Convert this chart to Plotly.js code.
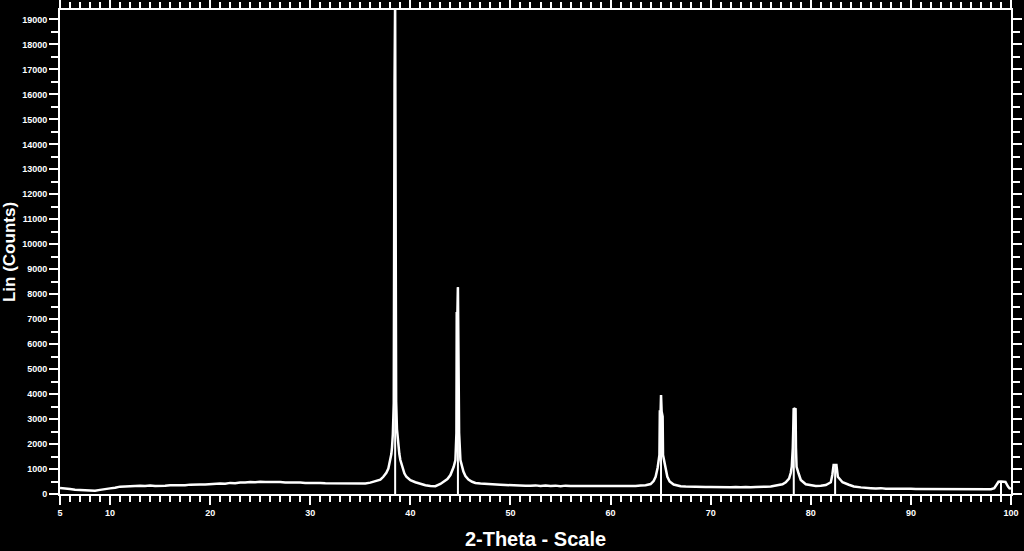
<!DOCTYPE html>
<html>
<head>
<meta charset="utf-8">
<script src="https://cdn.plot.ly/plotly-3.0.1.min.js"></script>
<style>html,body{margin:0;padding:0;background:#000;}#chart{width:1024px;height:551px;}</style>
</head>
<body>
<div id="chart"></div>
<script>
// 2-Theta positions (degrees) of the measured pattern
const twoTheta = [
 5.0,5.5,6.0,6.5,7.0,7.5,8.0,8.5,9.0,9.5,10.0,10.5,11.0,11.5,12.0,12.5,13.0,13.5,14.0,14.5,
 15.0,15.5,16.0,16.5,17.0,17.5,18.0,18.5,19.0,19.5,20.0,20.5,21.0,21.5,22.0,22.5,23.0,23.5,24.0,24.5,
 25.0,25.5,26.0,26.5,27.0,27.5,28.0,28.5,29.0,29.5,30.0,30.5,31.0,31.5,32.0,32.5,33.0,33.5,34.0,34.5,
 35.0,35.5,36.0,36.5,37.0,37.3,37.6,37.8,38.0,38.1,38.17,38.25,38.34,38.36,38.42,38.47,38.5,38.53,38.56,38.58,
 38.66,38.8,38.9,39.0,39.2,39.4,39.6,39.8,40.0,40.5,41.0,41.5,42.0,42.5,43.0,43.3,43.7,44.0,
 44.2,44.33,44.5,44.6,44.63,44.7,44.75,44.8,44.84,44.87,45.0,45.17,45.3,45.5,45.8,46.17,46.5,
 47.0,47.5,48.0,48.5,49.0,49.5,50.0,50.5,51.0,51.5,52.0,52.5,53.0,53.5,54.0,54.5,55.0,55.5,56.0,56.5,
 57.0,57.5,58.0,58.5,59.0,59.5,60.0,60.5,61.0,61.5,62.0,62.5,63.0,63.5,64.0,64.3,64.5,64.7,64.88,64.92,
 65.0,65.04,65.1,65.14,65.2,65.24,65.45,65.67,65.9,66.3,66.8,67.0,67.5,68.0,68.5,69.0,69.5,70.0,70.5,
 71.0,71.5,72.0,72.5,73.0,73.5,74.0,74.5,75.0,75.5,76.0,76.5,77.0,77.17,77.5,77.83,78.0,78.1,78.2,78.24,
 78.3,78.4,78.48,78.52,78.58,78.8,79.0,79.5,80.0,80.5,81.0,81.5,82.0,82.15,82.28,82.43,82.56,82.7,83.17,
 83.8,84.3,85.0,85.5,86.0,86.5,87.0,87.5,88.0,88.5,89.0,89.5,90.0,90.5,91.0,91.5,92.0,92.5,93.0,93.5,
 94.0,94.5,95.0,95.5,96.0,96.5,97.0,97.5,98.0,98.33,98.6,98.75,99.0,99.3,99.45,99.7,99.85,100.0
];
// Lin (Counts)
const counts = [
 245,210,200,170,160,140,140,130,165,180,225,250,295,305,325,315,335,320,340,325,
 345,335,350,345,365,350,375,365,385,380,405,400,425,410,445,435,465,460,485,470,
 495,480,490,480,485,465,470,460,460,445,455,440,445,430,430,420,425,410,425,405,
 425,425,455,500,570,690,850,1020,1360,1600,1880,2400,3640,16000,16500,19400,15000,13300,13000,3700,
 2600,1880,1600,1360,1050,830,690,600,550,470,400,350,320,310,400,490,600,760,
 920,1090,1360,2440,7240,7240,8280,6400,6300,2440,1360,1100,900,720,580,490,440,
 420,400,390,385,370,360,345,330,345,330,330,345,325,340,320,335,315,335,320,320,
 335,315,320,320,325,305,325,310,315,315,320,325,340,350,400,520,690,1050,1560,3300,
 3300,3960,3300,3200,3100,1560,1050,690,500,380,330,310,300,290,285,295,280,285,275,
 295,275,275,285,270,285,270,285,275,290,300,330,370,390,470,620,850,1090,1840,3430,
 3430,3400,3430,1840,1090,800,560,390,340,320,330,360,470,760,1160,1160,1160,690,470,
 370,300,265,235,235,220,235,215,220,220,215,210,210,205,205,200,200,195,195,190,
 190,185,190,175,190,180,185,180,195,230,380,490,500,490,480,300,230,220
];
// Reference stick lines (position, intensity)
const stickPos = [38.48, 44.75, 65.04, 78.3, 82.43, 99.0];
const stickHeight = [19400, 8280, 3960, 3430, 1160, 500];
// x tick labels
const xTickVals = [5,10,20,30,40,50,60,70,80,90,100];
const xTickText = ['5','10','20','30','40','50','60','70','80','90','100'];

const sx = [], sy = [];
stickPos.forEach((p, i) => { sx.push(p, p, null); sy.push(0, stickHeight[i], null); });

const traces = [
  {x: twoTheta, y: counts, type: 'scatter', mode: 'lines',
   line: {color: '#ffffff', width: 2.5}, hoverinfo: 'skip', showlegend: false},
  {x: sx, y: sy, type: 'scatter', mode: 'lines',
   line: {color: '#ffffff', width: 2}, hoverinfo: 'skip', showlegend: false}
];

const tickFont = {family: 'Liberation Sans, Arial, sans-serif', size: 9, color: '#ffffff', weight: 'bold'};

const layout = {
  width: 1024, height: 551,
  paper_bgcolor: '#000000', plot_bgcolor: '#000000',
  margin: {l: 60, r: 13, t: 10, b: 57},
  showlegend: false,
  xaxis: {
    range: [5, 100], tickmode: 'array', tickvals: xTickVals, ticktext: xTickText,
    ticks: 'outside', ticklen: 9, tickwidth: 2, tickcolor: '#ffffff',
    showline: true, linecolor: '#ffffff', linewidth: 2, mirror: 'allticks',
    showgrid: false, zeroline: false, tickfont: tickFont,
    minor: {tickmode: 'linear', tick0: 0, dtick: 1, ticks: 'outside', ticklen: 6, tickwidth: 2, tickcolor: '#ffffff', showgrid: false},
    title: {text: '2-Theta - Scale', font: {family: 'Liberation Sans, Arial, sans-serif', size: 20, color: '#ffffff', weight: 'bold'}, standoff: 15}
  },
  yaxis: {
    range: [0, 19380], tickmode: 'linear', tick0: 0, dtick: 1000, tickformat: 'd',
    ticks: 'outside', ticklen: 9, tickwidth: 2, tickcolor: '#ffffff',
    showline: true, linecolor: '#ffffff', linewidth: 2, mirror: 'allticks',
    showgrid: false, zeroline: false, tickfont: tickFont,
    minor: {tickmode: 'linear', tick0: 0, dtick: 500, ticks: 'outside', ticklen: 7, tickwidth: 2, tickcolor: '#ffffff', showgrid: false},
    title: {text: 'Lin (Counts)', font: {family: 'Liberation Sans, Arial, sans-serif', size: 17, color: '#ffffff', weight: 'bold'}, standoff: 4}
  }
};

Plotly.newPlot('chart', traces, layout, {displayModeBar: false, staticPlot: true});
</script>
</body>
</html>
